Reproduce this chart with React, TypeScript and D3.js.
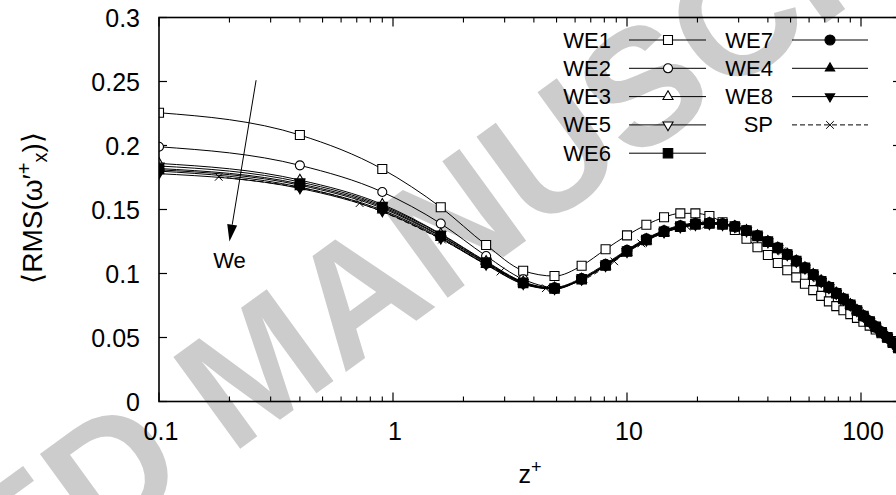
import * as d3 from "d3";

const zGrid = [0.1, 0.4, 0.9, 1.6, 2.5, 3.6, 4.9, 6.4, 8.1, 10, 12.1, 14.4, 16.9, 19.6, 22.5, 25.6, 28.9, 32.4, 36.1, 40,
  44.1, 48.4, 52.9, 57.6, 62.5, 67.6, 72.9, 78.4, 84.1, 90, 96.1, 102.4, 108.9, 115.6, 122.5, 129.6, 136.9, 144.4, 152.1];
const zGridSP = [0.18, 0.72, 1.62, 2.88, 4.5, 6.48, 8.82, 11.52, 14.58, 18, 21.78, 25.92, 30.42, 35.28, 40.5, 46.08,
  52.02, 58.32, 64.98, 72, 79.38, 87.12, 95.22, 103.68, 112.5, 121.68, 131.22, 141.12, 151.38];

const we1 = [0.2256, 0.2082, 0.1816, 0.1517, 0.1223, 0.1022, 0.098, 0.1061, 0.1189, 0.1298, 0.1381, 0.1439, 0.147, 0.147,
  0.1449, 0.14, 0.134, 0.1272, 0.1205, 0.1145, 0.1082, 0.1025, 0.097, 0.092, 0.087, 0.0825, 0.0782, 0.0745, 0.0713,
  0.0683, 0.0653, 0.0623, 0.0593, 0.0563, 0.0533, 0.0503, 0.0473, 0.0443, 0.0413];
const we2 = [0.199, 0.1845, 0.1637, 0.139, 0.1137, 0.0955, 0.0892, 0.0965, 0.1075, 0.1185, 0.1275, 0.1337, 0.1377, 0.1395,
  0.14, 0.1392, 0.1372, 0.1338, 0.1295, 0.1248, 0.1196, 0.1145, 0.1092, 0.1038, 0.0985, 0.0933, 0.0884, 0.0838, 0.0793,
  0.0748, 0.0703, 0.066, 0.0617, 0.0575, 0.0533, 0.0492, 0.0451, 0.0411, 0.0371];
const we3 = [0.186, 0.173, 0.154, 0.131, 0.1095, 0.0935, 0.0888, 0.0955, 0.1058, 0.1165, 0.1255, 0.1318, 0.1358, 0.1378,
  0.1386, 0.138, 0.1362, 0.133, 0.129, 0.1245, 0.1195, 0.1145, 0.1093, 0.104, 0.0988, 0.0937, 0.0889, 0.0843, 0.0798,
  0.0753, 0.0708, 0.0665, 0.0622, 0.058, 0.0538, 0.0497, 0.0456, 0.0416, 0.0376];
const we5 = [0.184, 0.1715, 0.153, 0.1305, 0.109, 0.093, 0.0885, 0.0955, 0.106, 0.117, 0.126, 0.1323, 0.1363, 0.1381,
  0.1388, 0.1381, 0.1364, 0.1332, 0.1291, 0.1246, 0.1196, 0.1146, 0.1094, 0.1041, 0.0988, 0.0937, 0.0889, 0.0843, 0.0798,
  0.0753, 0.0708, 0.0665, 0.0622, 0.058, 0.0538, 0.0497, 0.0456, 0.0416, 0.0376];
const we6 = [0.182, 0.17, 0.152, 0.1295, 0.1085, 0.0927, 0.0883, 0.0955, 0.1062, 0.1172, 0.1262, 0.1326, 0.1366, 0.1384,
  0.1391, 0.1384, 0.1367, 0.1335, 0.1294, 0.1249, 0.1199, 0.1149, 0.1097, 0.1044, 0.0991, 0.094, 0.0892, 0.0846, 0.0801,
  0.0756, 0.0711, 0.0668, 0.0625, 0.0583, 0.0541, 0.05, 0.0459, 0.0419, 0.0379];
const we7 = [0.181, 0.169, 0.151, 0.129, 0.108, 0.0925, 0.0882, 0.0957, 0.1066, 0.1177, 0.1267, 0.133, 0.137, 0.1388,
  0.1394, 0.1387, 0.137, 0.1338, 0.1297, 0.1252, 0.1202, 0.1152, 0.11, 0.1047, 0.0994, 0.0943, 0.0895, 0.0849, 0.0804,
  0.0759, 0.0714, 0.0671, 0.0628, 0.0586, 0.0544, 0.0503, 0.0462, 0.0422, 0.0382];
const we4 = [0.18, 0.1675, 0.1495, 0.128, 0.1072, 0.092, 0.088, 0.0958, 0.1068, 0.118, 0.127, 0.1333, 0.1372, 0.139,
  0.1396, 0.1389, 0.1372, 0.134, 0.1299, 0.1254, 0.1204, 0.1154, 0.1102, 0.1049, 0.0996, 0.0945, 0.0897, 0.0851, 0.0806,
  0.0761, 0.0716, 0.0673, 0.063, 0.0588, 0.0546, 0.0505, 0.0464, 0.0424, 0.0384];
const we8 = [0.178, 0.1665, 0.1485, 0.1272, 0.1068, 0.0917, 0.0878, 0.0953, 0.1062, 0.1174, 0.1265, 0.1328, 0.1368, 0.1386,
  0.1392, 0.1385, 0.1368, 0.1336, 0.1295, 0.125, 0.12, 0.115, 0.1098, 0.1045, 0.0992, 0.0941, 0.0893, 0.0847, 0.0802,
  0.0757, 0.0712, 0.0669, 0.0626, 0.0584, 0.0542, 0.0501, 0.046, 0.042, 0.038];
const sp = [0.1755, 0.155, 0.1265, 0.1015, 0.0885, 0.095, 0.1095, 0.1235, 0.1322, 0.1368, 0.1382, 0.1378, 0.135, 0.13,
  0.124, 0.1175, 0.1105, 0.1032, 0.0962, 0.0898, 0.0838, 0.0778, 0.0715, 0.066, 0.06, 0.0545, 0.049, 0.0434, 0.038];

const yTicks = [0, 0.05, 0.1, 0.15, 0.2, 0.25, 0.3];
const yTickLabels = ["0", "0.05", "0.1", "0.15", "0.2", "0.25", "0.3"];
const xTicks = [0.1, 1, 10, 100];
const xTickLabels = ["0.1", "1", "10", "100"];

const series = [
  { name: "WE1", z: zGrid, v: we1, mark: "square" },
  { name: "WE2", z: zGrid, v: we2, mark: "circle" },
  { name: "WE3", z: zGrid, v: we3, mark: "triUp" },
  { name: "WE5", z: zGrid, v: we5, mark: "triDown" },
  { name: "WE6", z: zGrid, v: we6, mark: "fsquare" },
  { name: "WE7", z: zGrid, v: we7, mark: "fcircle" },
  { name: "WE4", z: zGrid, v: we4, mark: "ftriUp" },
  { name: "WE8", z: zGrid, v: we8, mark: "ftriDown" },
  { name: "SP", z: zGridSP, v: sp, mark: "times" },
];

const W = 896, H = 495;
const left = 159, right = 901, top = 17.5, bottom = 401.5;
const font = "'Liberation Sans', Arial, Helvetica, sans-serif";

const x = d3.scaleLog().domain([0.1, 100]).range([left, 861]);
const y = d3.scaleLinear().domain([0, 0.3]).range([bottom, top]);

function Marker({ kind, cx, cy }: { kind: string; cx: number; cy: number }) {
  const filled = kind.startsWith("f");
  let d = "";
  let rot = 0;
  if (kind === "square" || kind === "fsquare") d = d3.symbol(d3.symbolSquare, filled ? 90 : 81)() as string;
  else if (kind === "circle" || kind === "fcircle") d = d3.symbol(d3.symbolCircle, filled ? 80 : 64)() as string;
  else if (kind.includes("tri")) {
    d = d3.symbol(d3.symbolTriangle, filled ? 38 : 44)() as string;
    if (kind.includes("Down")) rot = 180;
  } else if (kind === "times") d = d3.symbol(d3.symbolTimes, 40)() as string;
  return (
    <path
      d={d}
      transform={`translate(${cx},${cy}) rotate(${rot})`}
      fill={filled ? "#000" : "#fff"}
      stroke="#000"
      strokeWidth={kind === "times" ? 1 : 1.1}
      fillOpacity={filled ? 1 : kind === "times" ? 0 : 1}
    />
  );
}

export default function App() {
  const line = d3
    .line<[number, number]>()
    .x((d) => x(d[0]))
    .y((d) => y(d[1]))
    .curve(d3.curveMonotoneX);

  const minor: number[] = [];
  [0.1, 1, 10, 100].forEach((dec) => {
    for (let m = 2; m <= 9; m++) minor.push(dec * m);
  });

  const legendCols = [
    { textX: 611, x0: 629, x1: 706, mx: 668 },
    { textX: 773, x0: 792, x1: 868, mx: 830 },
  ];
  const rowY = (i: number) => 40 + i * 28.3;

  // annotation arrow (data coords)
  const ax0 = x(0.26), ay0 = y(0.251), ax1 = x(0.2), ay1 = y(0.125);
  const ang = Math.atan2(ay1 - ay0, ax1 - ax0);
  const hl = 17, hw = 5;
  const bx = ax1 - hl * Math.cos(ang), by = ay1 - hl * Math.sin(ang);
  const head = `M${ax1},${ay1} L${bx + hw * Math.sin(ang)},${by - hw * Math.cos(ang)} L${bx - hw * Math.sin(ang)},${by + hw * Math.cos(ang)} Z`;

  return (
    <svg width={W} height={H} style={{ position: "absolute", left: 0, top: 0, background: "#fff" }} fontFamily={font}>
      <rect width={W} height={H} fill="#fff" />
      <defs>
        <clipPath id="plot">
          <rect x={left} y={top} width={right - left} height={bottom - top} />
        </clipPath>
      </defs>

      {/* watermark */}
      <text
        transform="translate(257,366) rotate(-36)"
        textAnchor="middle"
        dominantBaseline="central"
        fontSize={165}
        fontWeight="bold"
        fill="#cccccc"
      >
        ACCEPTED MANUSCRIPT
      </text>

      {/* ticks */}
      {yTicks.map((t, i) => (
        <g key={"y" + i}>
          <line x1={left} x2={left + 8} y1={y(t)} y2={y(t)} stroke="#000" strokeWidth={1.2} />
          <line x1={right - 8} x2={right} y1={y(t)} y2={y(t)} stroke="#000" strokeWidth={1.2} />
          <text x={140} y={y(t)} textAnchor="end" dominantBaseline="central" fontSize={25}>
            {yTickLabels[i]}
          </text>
        </g>
      ))}
      {xTicks.map((t, i) => (
        <g key={"x" + i}>
          <line x1={x(t)} x2={x(t)} y1={bottom} y2={bottom - 9} stroke="#000" strokeWidth={1.2} />
          <line x1={x(t)} x2={x(t)} y1={top} y2={top + 9} stroke="#000" strokeWidth={1.2} />
          <text x={x(t) + 2} y={440} textAnchor="middle" fontSize={25}>
            {xTickLabels[i]}
          </text>
        </g>
      ))}
      {minor.map((t, i) => (
        <g key={"m" + i}>
          <line x1={x(t)} x2={x(t)} y1={bottom} y2={bottom - 5} stroke="#000" strokeWidth={1.1} />
          <line x1={x(t)} x2={x(t)} y1={top} y2={top + 5} stroke="#000" strokeWidth={1.1} />
        </g>
      ))}

      {/* data */}
      <g clipPath="url(#plot)">
        {series.map((s) => (
          <g key={s.name}>
            <path
              d={line(s.z.map((z, i) => [z, s.v[i]] as [number, number])) as string}
              fill="none"
              stroke="#000"
              strokeWidth={1}
              strokeDasharray={s.mark === "times" ? "5,3" : undefined}
            />
            {s.z.map((z, i) => (
              <Marker key={i} kind={s.mark} cx={x(z)} cy={y(s.v[i])} />
            ))}
          </g>
        ))}
      </g>

      {/* border */}
      <rect x={left} y={top} width={right - left} height={bottom - top} fill="none" stroke="#000" strokeWidth={1.6} />

      {/* legend */}
      {series.map((s, i) => {
        const col = legendCols[i < 5 ? 0 : 1];
        const ry = rowY(i < 5 ? i : i - 5);
        return (
          <g key={"lg" + s.name}>
            <text x={col.textX} y={ry} textAnchor="end" dominantBaseline="central" fontSize={22}>
              {s.name}
            </text>
            <line
              x1={col.x0}
              x2={col.x1}
              y1={ry}
              y2={ry}
              stroke="#000"
              strokeWidth={1}
              strokeDasharray={s.mark === "times" ? "5,3" : undefined}
            />
            <Marker kind={s.mark} cx={col.mx} cy={ry} />
          </g>
        );
      })}

      {/* arrow + label */}
      <line x1={ax0} y1={ay0} x2={bx} y2={by} stroke="#000" strokeWidth={1} />
      <path d={head} fill="#000" />
      <text x={x(0.2)} y={y(0.11)} textAnchor="middle" dominantBaseline="central" fontSize={22}>
        We
      </text>

      {/* axis titles */}
      <text x={530} y={483} textAnchor="middle" fontSize={25}>
        z<tspan dy={-10} fontSize={18}>+</tspan>
      </text>
      <text transform="translate(42,208) rotate(-90)" textAnchor="middle" fontSize={28}>
        ⟨RMS(ω′<tspan dy={-11} fontSize={20}>+</tspan>
        <tspan dy={16} fontSize={20}>x</tspan>
        <tspan dy={-5}>)⟩</tspan>
      </text>
    </svg>
  );
}
